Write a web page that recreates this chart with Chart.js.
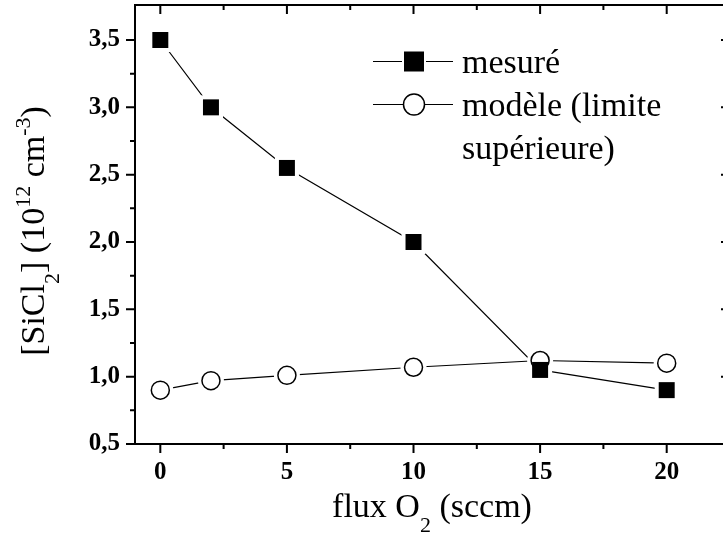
<!DOCTYPE html>
<html>
<head>
<meta charset="utf-8">
<script src="https://cdn.jsdelivr.net/npm/chart.js@4.4.0/dist/chart.umd.min.js"></script>
<style>
  html, body { margin: 0; padding: 0; background: #fff; overflow: hidden; }
  canvas { display: block; }
</style>
</head>
<body>
<canvas id="myChart" width="731" height="534"></canvas>
<script>
const fluxO2 = [0, 2, 5, 10, 15, 20]
const mesure = [3.5, 3.0, 2.55, 2.0, 1.05, 0.9]
const modele = [0.9, 0.97, 1.01, 1.07, 1.12, 1.1]
const xTicks = [0, 5, 10, 15, 20]
const xMinor = [2.5, 7.5, 12.5, 17.5]
const yTicks = [0.5, 1.0, 1.5, 2.0, 2.5, 3.0, 3.5]
const yMinor = [0.75, 1.25, 1.75, 2.25, 2.75, 3.25]
const legendLabels = ['mesuré', 'modèle (limite', 'supérieure)']

const SERIF = '"Liberation Serif", "Times New Roman", serif'

function pts(ys) {
  return fluxO2.map((x, i) => ({ x: x, y: ys[i] }))
}

// fixed axis size, no extra padding for the end labels
function fixSize(prop, size) {
  return s => {
    s[prop] = size
    s.paddingTop = s.paddingBottom = s.paddingLeft = s.paddingRight = 0
  }
}

// draws text made of pieces, some of them sub/superscript
function richText(ctx, pieces, x, y) {
  const big = '34px ' + SERIF, small = '22px ' + SERIF
  let w = 0
  pieces.forEach(p => { ctx.font = p[1] ? small : big; w += ctx.measureText(p[0]).width })
  let cx = x - w / 2
  ctx.textAlign = 'left'
  ctx.textBaseline = 'alphabetic'
  pieces.forEach(p => {
    ctx.font = p[1] ? small : big
    const dy = p[1] === 'sub' ? 15 : p[1] === 'sup' ? -14 : 0
    ctx.fillText(p[0], cx, y + dy)
    cx += ctx.measureText(p[0]).width
  })
}

const decorations = {
  id: 'decorations',
  afterDraw(chart) {
    const ctx = chart.ctx, a = chart.chartArea
    const x = chart.scales.x, y = chart.scales.y
    ctx.save()
    ctx.strokeStyle = '#000'
    ctx.lineWidth = 2
    ctx.beginPath()
    ctx.moveTo(a.left - 1, a.top); ctx.lineTo(a.right, a.top); ctx.lineTo(a.right, a.bottom)
    const tick = (x0, y0, x1, y1) => { ctx.moveTo(x0, y0); ctx.lineTo(x1, y1) }
    xTicks.forEach(v => {
      const px = x.getPixelForValue(v)
      tick(px, a.bottom, px, a.bottom + 9)
      tick(px, a.top, px, a.top + 9)
    })
    xMinor.forEach(v => {
      const px = x.getPixelForValue(v)
      tick(px, a.bottom, px, a.bottom + 5)
      tick(px, a.top, px, a.top + 5)
    })
    yTicks.forEach(v => {
      const py = y.getPixelForValue(v)
      tick(a.left, py, a.left - 9, py)
      tick(a.right, py, a.right - 9, py)
    })
    yMinor.forEach(v => {
      const py = y.getPixelForValue(v)
      tick(a.left, py, a.left - 5, py)
      tick(a.right, py, a.right - 5, py)
    })
    ctx.stroke()

    // axis titles
    ctx.fillStyle = '#000'
    richText(ctx, [['flux O'], ['2', 'sub'], [' (sccm)']], 432, 517)
    ctx.save()
    ctx.translate(44, 231)
    ctx.rotate(-Math.PI / 2)
    richText(ctx, [['[SiCl'], ['2', 'sub'], ['] (10'], ['12', 'sup'], [' cm'], ['-3', 'sup'], [')']], 0, 0)
    ctx.restore()

    // legend
    const r1 = 61.5, r2 = 104.5
    ctx.lineWidth = 1.2
    ctx.beginPath()
    tick(373, r1, 402, r1); tick(426, r1, 453, r1)
    tick(373, r2, 403, r2); tick(425, r2, 453, r2)
    ctx.stroke()
    ctx.fillRect(404, r1 - 10, 20, 20)
    ctx.beginPath()
    ctx.arc(414, r2, 10.5, 0, Math.PI * 2)
    ctx.fillStyle = '#fff'; ctx.fill()
    ctx.lineWidth = 1.5; ctx.stroke()
    ctx.fillStyle = '#000'
    ctx.font = '34px ' + SERIF
    ctx.textAlign = 'left'
    ctx.textBaseline = 'alphabetic'
    ctx.fillText(legendLabels[0], 462, r1 + 11)
    ctx.fillText(legendLabels[1], 462, r2 + 11)
    ctx.fillText(legendLabels[2], 462, r2 + 54)
    ctx.restore()
  }
}

const lineStyle = { showLine: true, pointRadius: 0, borderColor: '#000', borderWidth: 1.2 }
const haloStyle = { showLine: false, pointBackgroundColor: '#fff', pointBorderWidth: 0 }

var chart = new Chart(document.getElementById('myChart').getContext('2d'), {
  type: 'scatter',
  data: {
    datasets: [
      { label: legendLabels[0], data: pts(mesure), order: 0, showLine: false,
        pointStyle: 'rect', pointRadius: 11.3, pointBackgroundColor: '#000', pointBorderWidth: 0 },
      { label: 'modèle (limite supérieure)', data: pts(modele), order: 1, showLine: false,
        pointStyle: 'circle', pointRadius: 9, pointBackgroundColor: '#fff',
        pointBorderColor: '#000', pointBorderWidth: 1.5 },
      Object.assign({ data: pts(mesure), order: 2, pointStyle: 'rect', pointRadius: 17 }, haloStyle),
      Object.assign({ data: pts(modele), order: 3, pointStyle: 'circle', pointRadius: 13 }, haloStyle),
      Object.assign({ data: pts(mesure), order: 4 }, lineStyle),
      Object.assign({ data: pts(modele), order: 5 }, lineStyle)
    ]
  },
  options: {
    responsive: false,
    animation: false,
    layout: { autoPadding: false, padding: { top: 5, right: 1, left: 0, bottom: 0 } },
    plugins: { legend: { display: false }, tooltip: { enabled: false } },
    scales: {
      x: {
        type: 'linear', position: 'bottom', min: -1, max: 22.5,
        afterBuildTicks: s => { s.ticks = xTicks.map(v => ({ value: v })) },
        afterFit: fixSize('height', 90),
        grid: { drawOnChartArea: false, drawTicks: false },
        border: { display: true, color: '#000', width: 2 },
        ticks: { color: '#000', padding: 14, maxRotation: 0, autoSkip: false,
          font: { family: SERIF, size: 25, weight: 'bold' }, callback: v => String(v) }
      },
      y: {
        type: 'linear', min: 0.5, max: 3.76,
        afterBuildTicks: s => { s.ticks = yTicks.map(v => ({ value: v })) },
        afterFit: fixSize('width', 135),
        grid: { drawOnChartArea: false, drawTicks: false },
        border: { display: true, color: '#000', width: 2 },
        ticks: { color: '#000', padding: 15, autoSkip: false,
          font: { family: SERIF, size: 25, weight: 'bold' },
          callback: v => v.toFixed(1).replace('.', ',') }
      }
    }
  },
  plugins: [decorations]
})
</script>
</body>
</html>
